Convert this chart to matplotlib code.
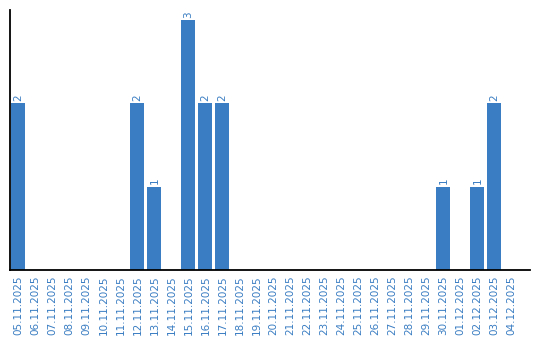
import matplotlib
matplotlib.use('Agg')
import matplotlib.pyplot as plt
import numpy as np

dates = ['05.11.2025', '06.11.2025', '07.11.2025', '08.11.2025', '09.11.2025',
         '10.11.2025', '11.11.2025', '12.11.2025', '13.11.2025', '14.11.2025',
         '15.11.2025', '16.11.2025', '17.11.2025', '18.11.2025', '19.11.2025',
         '20.11.2025', '21.11.2025', '22.11.2025', '23.11.2025', '24.11.2025',
         '25.11.2025', '26.11.2025', '27.11.2025', '28.11.2025', '29.11.2025',
         '30.11.2025', '01.12.2025', '02.12.2025', '03.12.2025', '04.12.2025']
counts = [2, 0, 0, 0, 0, 0, 0, 2, 1, 0,
          3, 2, 2, 0, 0, 0, 0, 0, 0, 0,
          0, 0, 0, 0, 0, 1, 0, 1, 2, 0]

blue = '#3a7dc2'

fig = plt.figure(figsize=(5.4, 3.4), dpi=100)
ax = fig.add_axes([10 / 540, 70 / 340, 520 / 540, 260 / 340])

x = np.arange(len(dates))
bars = ax.bar(x, counts, width=14 / 17, color=blue)

# value labels only on non-empty days
for xi, v in zip(x, counts):
    if v > 0:
        ax.text(xi, v + 0.03, str(v), rotation=90, ha='center', va='bottom',
                color=blue, fontsize=7.5)

ax.set_xlim(-0.5, 30.1)
ax.set_ylim(0, 3.12)
ax.set_xticks(x)
ax.set_xticklabels(dates, rotation=90, fontsize=7.5, color=blue)
ax.tick_params(axis='x', length=0, pad=4)
ax.set_yticks([])
for s in ['top', 'right']:
    ax.spines[s].set_visible(False)
ax.spines['left'].set_linewidth(1.3)
ax.spines['bottom'].set_linewidth(1.3)

fig.savefig('out.png', dpi=100)
